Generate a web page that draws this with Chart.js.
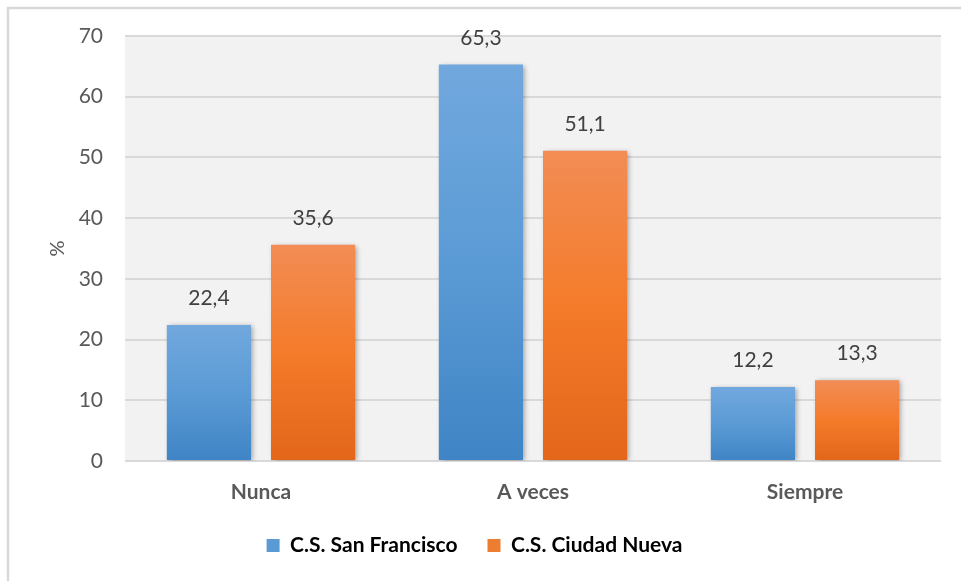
<!DOCTYPE html>
<html>
<head>
<meta charset="utf-8">
<script src="https://cdn.jsdelivr.net/npm/chart.js@4.4.1/dist/chart.umd.min.js"></script>
<style>
  html, body { margin: 0; padding: 0; background: #ffffff; }
  #wrap { width: 962px; height: 581px; position: relative; }
</style>
</head>
<body>
<div id="wrap"><canvas id="chart" width="962" height="581"></canvas></div>
<script>
// Categories and series values (%)
const categories = ['Nunca', 'A veces', 'Siempre'];
const sanFrancisco = [22.4, 65.3, 12.2];
const ciudadNueva = [35.6, 51.1, 13.3];
const seriesNames = ['C.S. San Francisco', 'C.S. Ciudad Nueva'];
const yTicks = [0, 10, 20, 30, 40, 50, 60, 70];

const FONT = 'Lato, "Open Sans", sans-serif';

// Vertical gradient per bar, from its top edge to the baseline
function barGradient(stops) {
  return function (context) {
    const chart = context.chart;
    const area = chart.chartArea;
    if (!area || context.parsed == null) return stops[1];
    const y = chart.scales.y;
    const top = y.getPixelForValue(context.parsed.y);
    const bottom = y.getPixelForValue(0);
    const g = chart.ctx.createLinearGradient(0, top, 0, bottom);
    g.addColorStop(0, stops[0]);
    g.addColorStop(0.5, stops[1]);
    g.addColorStop(1, stops[2]);
    return g;
  };
}

const blueStops = ['#71a8de', '#5b9bd5', '#3f84c5'];
const orangeStops = ['#f28d55', '#f47b2a', '#e3661a'];

function formatValue(v) {
  return v.toFixed(1).replace('.', ',');
}

// Outer frame and grey plot background
const framePlugin = {
  id: 'frame',
  beforeDraw(chart) {
    const { ctx, chartArea: a } = chart;
    ctx.save();
    ctx.fillStyle = '#ffffff';
    ctx.fillRect(0, 0, chart.width, chart.height);
    ctx.strokeStyle = '#d9d9d9';
    ctx.lineWidth = 2.5;
    ctx.beginPath();
    ctx.moveTo(8, chart.height + 2);
    ctx.lineTo(8, 8);
    ctx.lineTo(961, 8);
    ctx.stroke();
    ctx.fillStyle = '#f2f2f2';
    ctx.fillRect(a.left, a.top, a.right - a.left, a.bottom - a.top + 1);
    ctx.restore();
  }
};

// Soft shadow behind bars, and value labels above them
const barDecor = {
  id: 'barDecor',
  beforeDatasetsDraw(chart) {
    const ctx = chart.ctx;
    ctx.save();
    ctx.shadowColor = 'rgba(0,0,0,0.35)';
    ctx.shadowBlur = 5;
    ctx.shadowOffsetX = 2;
    ctx.shadowOffsetY = 1;
  },
  afterDatasetsDraw(chart) {
    const ctx = chart.ctx;
    ctx.restore();
    ctx.save();
    ctx.font = '21px ' + FONT;
    ctx.fillStyle = '#404040';
    ctx.textAlign = 'center';
    ctx.textBaseline = 'alphabetic';
    chart.data.datasets.forEach((ds, di) => {
      const meta = chart.getDatasetMeta(di);
      meta.data.forEach((bar, i) => {
        ctx.fillText(formatValue(ds.data[i]), bar.x, bar.y - 20);
      });
    });
    ctx.restore();
  }
};

new Chart(document.getElementById('chart'), {
  type: 'bar',
  data: {
    labels: categories,
    datasets: [
      {
        label: seriesNames[0],
        data: sanFrancisco,
        backgroundColor: barGradient(blueStops),
        borderWidth: 0,
        categoryPercentage: 0.766,
        barPercentage: 0.808
      },
      {
        label: seriesNames[1],
        data: ciudadNueva,
        backgroundColor: barGradient(orangeStops),
        borderWidth: 0,
        categoryPercentage: 0.766,
        barPercentage: 0.808
      }
    ]
  },
  options: {
    responsive: false,
    animation: false,
    devicePixelRatio: 1,
    layout: { padding: { left: 8, right: 21, top: 36, bottom: 15 } },
    plugins: {
      tooltip: { enabled: false },
      legend: {
        position: 'bottom',
        labels: {
          boxWidth: 13,
          boxHeight: 13,
          padding: 30,
          color: '#595959',
          font: { family: FONT, size: 21, weight: 'bold' },
          generateLabels(chart) {
            return chart.data.datasets.map((ds, i) => ({
              text: ds.label,
              fillStyle: i === 0 ? '#5b9bd5' : '#ed7d31',
              strokeStyle: 'rgba(0,0,0,0)',
              lineWidth: 0,
              datasetIndex: i
            }));
          }
        }
      }
    },
    scales: {
      x: {
        grid: { display: false, drawTicks: false },
        border: { display: false },
        ticks: {
          color: '#595959',
          padding: 19,
          font: { family: FONT, size: 21, weight: 'bold' }
        },
        afterFit(scale) { scale.height = 44; }
      },
      y: {
        min: 0,
        max: 70,
        afterBuildTicks(scale) { scale.ticks = yTicks.map(v => ({ value: v })); },
        grid: { color: '#d9d9d9', lineWidth: 2, drawTicks: false },
        border: { display: false },
        ticks: {
          color: '#595959',
          padding: 22,
          font: { family: FONT, size: 21 }
        },
        title: {
          display: true,
          text: '%',
          color: '#595959',
          padding: { top: 38, bottom: 0 },
          font: { family: FONT, size: 20 }
        },
        afterFit(scale) { scale.width = 117; }
      }
    }
  },
  plugins: [framePlugin, barDecor]
});
</script>
</body>
</html>
